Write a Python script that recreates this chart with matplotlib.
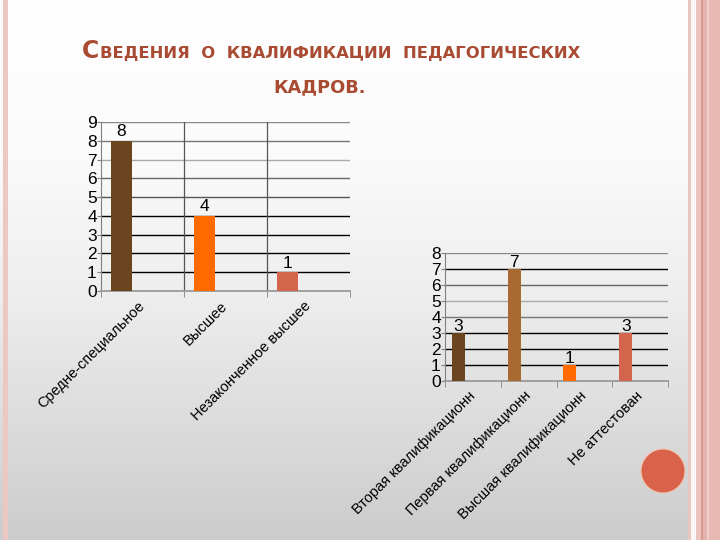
import matplotlib
matplotlib.use('Agg')
import matplotlib.pyplot as plt
import numpy as np
from matplotlib.patches import Circle, Rectangle

# ---- data ----
edu_categories = ["Средне-специальное", "Высшее", "Незаконченное высшее"]
edu_values = [8, 4, 1]
qual_categories = ["Вторая квалификационн", "Первая квалификационн",
                   "Высшая квалификационн", "Не аттестован"]
qual_values = [3, 7, 1, 3]
title_first = "С"
title_rest1 = "ВЕДЕНИЯ  О  КВАЛИФИКАЦИИ  ПЕДАГОГИЧЕСКИХ"
title_line2 = "КАДРОВ."

edu_colors = ["#6B4520", "#FF6A00", "#D2654C"]
qual_colors = ["#6B4520", "#A86A30", "#FF6A00", "#D2654C"]

plt.rcParams['font.family'] = ['Liberation Sans', 'DejaVu Sans']

fig = plt.figure(figsize=(7.2, 5.4), dpi=100)

# ---- background ----
bg = fig.add_axes([0, 0, 1, 1])
bg.set_axis_off()
bg.set_xlim(0, 720)
bg.set_ylim(540, 0)
ys = np.linspace(0, 540, 300)
vals = np.interp(ys, [0, 150, 300, 540], [1.0, 0.985, 0.93, 0.80])
img = np.dstack([vals[:, None]] * 3)
bg.imshow(img, aspect='auto', extent=[0, 720, 540, 0], zorder=0)

# side stripes
stripes = [(3, 5, "#ecc8c4"),
           (688, 3, "#e8c6c2"), (691, 5, "#fbf6f5"), (696, 4.7, "#ecc2bd"),
           (700.7, 2.6, "#d49a8c"), (703.3, 3.7, "#e6b4ae"), (707, 2, "#f0cfcb"),
           (709, 11, "#e8b8b3")]
for x0, w, c in stripes:
    bg.add_patch(Rectangle((x0, 0), w, 540, color=c, lw=0, zorder=1))

bg.add_patch(Circle((663, 471), 22, facecolor="#D9634A", edgecolor="#f2c4ae",
                    lw=0.8, zorder=2))

# ---- title ----
tcolor = "#A84B32"
t1 = bg.text(82, 58, title_first, fontsize=17, color=tcolor, fontweight='bold',
             family='DejaVu Sans', va='baseline', ha='left', zorder=3)
fig.canvas.draw()
ext = t1.get_window_extent()
bg.text(ext.x1 + 1, 58, title_rest1, fontsize=11.8, color=tcolor,
        fontweight='bold', family='DejaVu Sans', va='baseline', ha='left',
        zorder=3)
bg.text(273, 92, title_line2, fontsize=12.8, color=tcolor, fontweight='bold',
        family='DejaVu Sans', va='baseline', ha='left', zorder=3)


def style_axes(ax, n, ymax, grid_colors, vgrid):
    ax.set_facecolor('none')
    ax.set_xlim(-0.5, n - 0.5)
    ax.set_ylim(0, ymax)
    for lvl, c in zip(range(1, ymax + 1), grid_colors):
        ax.axhline(lvl, color=c, lw=1.0, zorder=1)
    if vgrid:
        for b in np.arange(0.5, n - 0.5, 1.0):
            ax.axvline(b, color="#555555", lw=0.9, zorder=1)
    for s in ['top', 'right']:
        ax.spines[s].set_visible(False)
    ax.spines['left'].set_color('#808080')
    ax.spines['bottom'].set_color('#999999')
    ax.spines['bottom'].set_linewidth(1.3)
    ax.set_yticks(range(ymax + 1))
    ax.tick_params(axis='y', length=3, color='#808080', labelsize=12.5, pad=0)
    ax.set_xticks(np.arange(n))
    ax.set_xticks(np.arange(-0.5, n, 1.0), minor=True)
    ax.tick_params(axis='x', which='major', length=0, pad=9)
    ax.tick_params(axis='x', which='minor', length=4, color='#808080')


# ---- chart 1 ----
ax1 = fig.add_axes([101 / 720, 1 - 291 / 540, 249 / 720, 169 / 540])
style_axes(ax1, 3, 9, ["#000000", "#000000", "#000000", "#000000", "#555555",
                       "#666666", "#aaaaaa", "#777777", "#888888"], True)
x1 = np.arange(len(edu_values))
bars1 = ax1.bar(x1 - 0.253, edu_values, width=0.253, color=edu_colors,
                linewidth=0, zorder=3)
ax1.set_xticklabels(edu_categories, rotation=45, ha='right', va='center',
                    rotation_mode='anchor', fontsize=10.5)
for b, v in zip(bars1, edu_values):
    ax1.annotate(str(v), (b.get_x() + b.get_width() / 2, v), xytext=(0, 1),
                 textcoords='offset points', ha='center', va='bottom',
                 fontsize=12.5, zorder=4)

# ---- chart 2 ----
ax2 = fig.add_axes([445 / 720, 1 - 381 / 540, 223 / 720, 128 / 540])
style_axes(ax2, 4, 8, ["#000000", "#000000", "#000000", "#777777", "#aaaaaa",
                       "#666666", "#000000", "#888888"], False)
x2 = np.arange(len(qual_values))
bars2 = ax2.bar(x2 - 0.259, qual_values, width=0.232, color=qual_colors,
                linewidth=0, zorder=3)
ax2.set_xticklabels(qual_categories, rotation=45, ha='right', va='center',
                    rotation_mode='anchor', fontsize=10.5)
for b, v in zip(bars2, qual_values):
    ax2.annotate(str(v), (b.get_x() + b.get_width() / 2, v), xytext=(0, -1),
                 textcoords='offset points', ha='center', va='bottom',
                 fontsize=12.5, zorder=4)

fig.savefig("out.png", dpi=100)
